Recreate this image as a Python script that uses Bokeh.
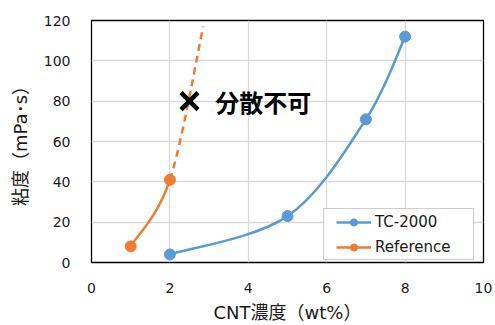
from bokeh.plotting import figure
from bokeh.models import Range1d, FixedTicker, Legend, LegendItem, Label, BoxAnnotation
from bokeh.embed import file_html
from bokeh.resources import INLINE

# ---- data ----
tc_x = [2, 5, 7, 8]
tc_y = [4, 23, 71, 112]
ref_x = [1, 2]
ref_y = [8, 41]
ref_ext_x = [2, 2.85]       # dashed extrapolation (no dispersion possible)
ref_ext_y = [41, 117]
mark_x = [2.5]
mark_y = [80]
x_ticks = [0, 2, 4, 6, 8, 10]
y_ticks = [0, 20, 40, 60, 80, 100, 120]
annot = "分散不可"
x_title = "CNT濃度（wt%）"
y_title = "粘度（mPa･s）"

FONT = "DejaVu Sans, Noto Sans CJK JP"
CJK = "Noto Sans CJK JP"
BLUE = "#5B9BD5"
ORANGE = "#ED7D31"
TXT = "#1a1a1a"


def smooth_segments(xs, ys):
    """Excel-like Catmull-Rom bezier segments through points."""
    n = len(xs)
    segs = {k: [] for k in ("x0", "y0", "x1", "y1", "cx0", "cy0", "cx1", "cy1")}
    for i in range(n - 1):
        p0 = (xs[max(i - 1, 0)], ys[max(i - 1, 0)])
        p1 = (xs[i], ys[i])
        p2 = (xs[i + 1], ys[i + 1])
        p3 = (xs[min(i + 2, n - 1)], ys[min(i + 2, n - 1)])
        segs["x0"].append(p1[0]); segs["y0"].append(p1[1])
        segs["x1"].append(p2[0]); segs["y1"].append(p2[1])
        segs["cx0"].append(p1[0] + (p2[0] - p0[0]) / 6)
        segs["cy0"].append(p1[1] + (p2[1] - p0[1]) / 6)
        segs["cx1"].append(p2[0] - (p3[0] - p1[0]) / 6)
        segs["cy1"].append(p2[1] - (p3[1] - p1[1]) / 6)
    return segs


p = figure(width=495, height=325, output_backend="svg", toolbar_location=None,
           x_range=Range1d(0, 10), y_range=Range1d(0, 120),
           min_border_left=91, min_border_right=12, min_border_top=20, min_border_bottom=63)
p.outline_line_color = "black"
p.outline_line_width = 1.3
p.background_fill_color = "white"
p.border_fill_color = "white"

for ax in (p.xaxis[0], p.yaxis[0]):
    ax.axis_line_color = None
    ax.major_tick_line_color = None
    ax.minor_tick_line_color = None
    ax.major_label_text_font = FONT
    ax.major_label_text_font_size = "14px"
    ax.major_label_text_color = TXT
    ax.axis_label_text_font = FONT
    ax.axis_label_text_font_size = "18px"
    ax.axis_label_text_font_style = "normal"
    ax.axis_label_text_color = TXT

p.xaxis.ticker = FixedTicker(ticks=x_ticks)
p.yaxis.ticker = FixedTicker(ticks=y_ticks)
p.xaxis.axis_label = x_title
p.yaxis.axis_label = y_title
p.xaxis.major_label_standoff = 14
p.xaxis.axis_label_standoff = 6
p.yaxis.major_label_standoff = 15
p.yaxis.axis_label_standoff = 10

p.xgrid.grid_line_color = "#d9d9d9"
p.ygrid.grid_line_color = "#d9d9d9"
p.xgrid.grid_line_width = 1.3
p.ygrid.grid_line_width = 1.3

# TC-2000
s = smooth_segments(tc_x, tc_y)
tc_line = p.bezier(line_color=BLUE, line_width=2.5, **s)
tc_pts = p.scatter(tc_x, tc_y, size=11, color=BLUE)

# Reference (solid part + dashed extrapolation, smoothed together)
all_x = ref_x + ref_ext_x[1:]
all_y = ref_y + ref_ext_y[1:]
s_all = smooth_segments(all_x, all_y)
nsolid = len(ref_x) - 1
solid = {k: v[:nsolid] for k, v in s_all.items()}
dashed = {k: v[nsolid:] for k, v in s_all.items()}
ref_line = p.bezier(line_color=ORANGE, line_width=2.5, **solid)
p.bezier(line_color=ORANGE, line_width=2.5, line_dash="7 5", **dashed)
ref_pts = p.scatter(ref_x, ref_y, size=11, color=ORANGE)

# cross mark + annotation
p.scatter(mark_x, mark_y, marker="x", size=24, line_color="black", line_width=4.5)
p.add_layout(Label(x=3.16, y=80, text=annot, text_font=CJK, text_font_size="24px",
                   text_font_style="bold", text_baseline="middle", text_color="black"))

# legend frame
p.add_layout(BoxAnnotation(left=232, right=382, bottom=3, top=54,
                           left_units="screen", right_units="screen",
                           bottom_units="screen", top_units="screen",
                           fill_color="white", fill_alpha=1,
                           line_color="#595959", line_width=1, level="annotation"))

legend = Legend(items=[LegendItem(label="TC-2000", renderers=[tc_line, tc_pts]),
                       LegendItem(label="Reference", renderers=[ref_line, ref_pts])],
                location=(245, 6))
legend.label_text_font = FONT
legend.label_text_font_size = "15px"
legend.label_text_color = TXT
legend.border_line_color = None
legend.background_fill_alpha = 0
legend.glyph_width = 35
legend.glyph_height = 18
legend.label_height = 18
legend.label_standoff = 4
legend.spacing = 7
legend.padding = 4
legend.margin = 0
p.add_layout(legend, "center")

open("out.html", "w").write(file_html(p, INLINE))
